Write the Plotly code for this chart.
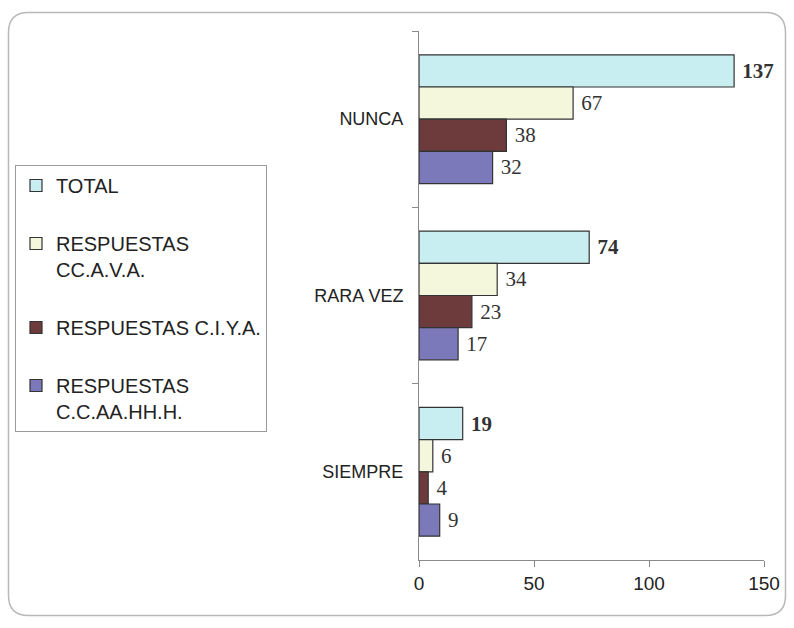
import plotly.graph_objects as go

categories = ["NUNCA", "RARA VEZ", "SIEMPRE"]
series_names = [
    "TOTAL",
    "RESPUESTAS<br>CC.A.V.A.",
    "RESPUESTAS C.I.Y.A.",
    "RESPUESTAS<br>C.C.AA.HH.H.",
]
total = [137, 74, 19]
ccava = [67, 34, 6]
ciya = [38, 23, 4]
ccaahhh = [32, 17, 9]
x_ticks = [0, 50, 100, 150]

COLORS = ["#c9eef2", "#f5f7dc", "#6e3b3d", "#7b79ba"]

# plot area in pixels
W, H = 794, 628
L, R, T, B = 419, 764, 31, 560


def px_to_paper(px, py):
    return (px - L) / (R - L), (B - py) / (B - T)


fig = go.Figure()
for i, (name, vals) in enumerate(zip(series_names, [total, ccava, ciya, ccaahhh])):
    fig.add_trace(go.Bar(
        y=categories, x=vals, orientation="h",
        name=name, legendgroup=str(i),
        marker=dict(color=COLORS[i], line=dict(color="#333333", width=1.2)),
        text=vals,
        texttemplate="\u00a0<b>%{x}</b>" if i == 0 else "\u00a0%{x}",
        textposition="outside",
        textfont=dict(family="Liberation Serif", size=21, color="#333333"),
        cliponaxis=False,
    ))

# rounded frame around the whole picture
x0, y0 = px_to_paper(8.5, 12.5)
x1, y1 = px_to_paper(785.5, 615.5)
rx = 20 / (R - L)
ry = 20 / (B - T)
frame = (
    f"M {x0 + rx},{y0} L {x1 - rx},{y0} Q {x1},{y0} {x1},{y0 - ry} "
    f"L {x1},{y1 + ry} Q {x1},{y1} {x1 - rx},{y1} "
    f"L {x0 + rx},{y1} Q {x0},{y1} {x0},{y1 + ry} "
    f"L {x0},{y0 - ry} Q {x0},{y0} {x0 + rx},{y0} Z"
)
fig.add_shape(type="path", path=frame, xref="paper", yref="paper",
              line=dict(color="#b8b8b8", width=1.5), layer="below")

lx, ly = px_to_paper(15, 165)
fig.update_layout(
    width=W, height=H,
    margin=dict(l=L, r=W - R, t=T, b=H - B),
    barmode="group", bargap=0.27, bargroupgap=0,
    plot_bgcolor="white", paper_bgcolor="white",
    font=dict(family="Liberation Sans", size=18, color="#222222"),
    showlegend=True,
    legend=dict(
        x=lx, y=ly, xanchor="left", yanchor="top",
        bgcolor="white", bordercolor="#9a9a9a", borderwidth=1,
        traceorder="grouped", tracegroupgap=29, itemwidth=30, valign="top",
        font=dict(family="Liberation Sans", size=20, color="#222222"),
    ),
    xaxis=dict(
        range=[0, 150], tickvals=x_ticks, showgrid=False, zeroline=False,
        showline=True, linecolor="#8a8a8a", linewidth=1,
        ticks="outside", ticklen=6, tickcolor="#8a8a8a",
        tickfont=dict(family="Liberation Sans", size=19, color="#222222"),
    ),
    yaxis=dict(
        autorange="reversed", showgrid=False,
        showline=True, linecolor="#8a8a8a", linewidth=1,
        ticks="outside", ticklen=6, tickcolor="#8a8a8a", tickson="boundaries",
        tickfont=dict(family="Liberation Sans", size=18, color="#222222"),
        ticklabelstandoff=11,
    ),
)

# drop the default page margin so the figure sits at the window's corner
fig.write_html(
    "out.html",
    config={"displayModeBar": False},
    post_script="document.body.style.margin='0';document.body.style.overflow='hidden';",
)
